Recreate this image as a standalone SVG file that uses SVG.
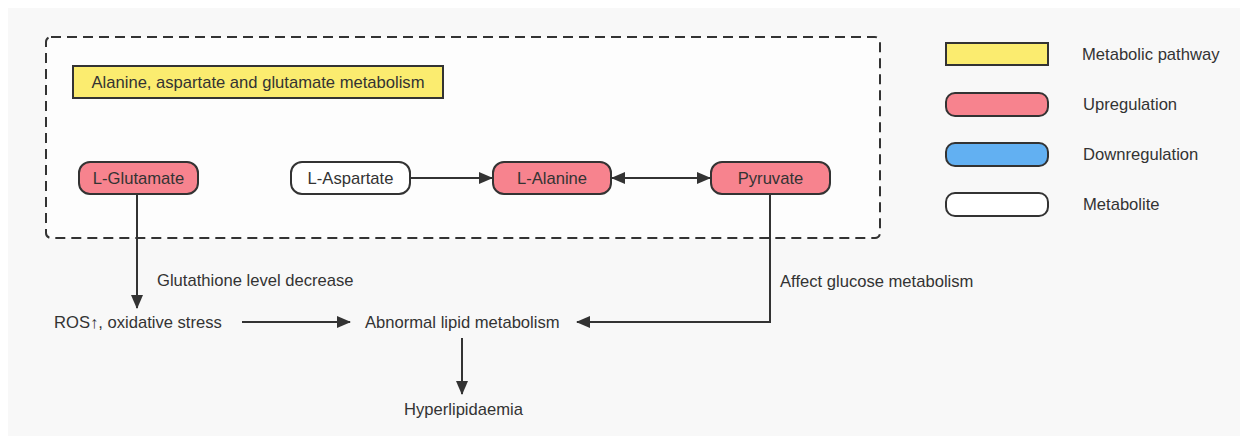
<svg xmlns="http://www.w3.org/2000/svg" width="1247" height="444" viewBox="0 0 1247 444">
<defs>
<marker id="ah" markerWidth="14" markerHeight="12" refX="13" refY="6" orient="auto-start-reverse" markerUnits="userSpaceOnUse"><path d="M0,0 L14,6 L0,12 Z" fill="#333"/></marker>
<style>
text{font-family:"Liberation Sans",Arial,sans-serif;font-size:16.6px;fill:#333}
.n{stroke:#333;stroke-width:2}
.up{fill:#f7838e}
.dn{fill:#62b0f2}
.mt{fill:#fff}
.pw{fill:#fbec6f}
.c{fill:none;stroke:#333;stroke-width:2}
.m{text-anchor:middle}
</style>
</defs>
<rect x="0" y="0" width="1247" height="444" fill="#fff"/>
<rect x="8" y="8" width="1232" height="428" fill="#f8f8f8"/>
<rect x="46" y="37" width="834" height="201" rx="5" fill="#fdfdfd" stroke="#333" stroke-width="2" stroke-dasharray="10,6"/>
<g id="pathway"><rect class="n pw" x="73" y="66" width="370" height="32"/><text class="m" x="258" y="88">Alanine, aspartate and glutamate metabolism</text></g>
<g id="glutamate"><rect class="n up" x="79" y="162" width="119" height="32" rx="11"/><text class="m" x="138.5" y="184">L-Glutamate</text></g>
<g id="aspartate"><rect class="n mt" x="291" y="162" width="119" height="32" rx="11"/><text class="m" x="350.5" y="184">L-Aspartate</text></g>
<g id="alanine"><rect class="n up" x="493" y="162" width="118" height="32" rx="11"/><text class="m" x="552" y="184">L-Alanine</text></g>
<g id="pyruvate"><rect class="n up" x="711" y="162" width="119" height="32" rx="11"/><text class="m" x="770.5" y="184">Pyruvate</text></g>
<g id="ros"><text x="54" y="328">ROS↑, oxidative stress</text></g>
<g id="lipid"><text x="365" y="328">Abnormal lipid metabolism</text></g>
<g id="hyper"><text x="404" y="415">Hyperlipidaemia</text></g>
<g id="connectors">
<line class="c" x1="410" y1="178" x2="492" y2="178" marker-end="url(#ah)"/>
<line class="c" x1="612" y1="178" x2="710" y2="178" marker-start="url(#ah)" marker-end="url(#ah)"/>
<line class="c" x1="137" y1="194" x2="137" y2="308" marker-end="url(#ah)"/>
<text x="157" y="286">Glutathione level decrease</text>
<line class="c" x1="242" y1="322" x2="350" y2="322" marker-end="url(#ah)"/>
<polyline class="c" points="770,194 770,322 577,322" marker-end="url(#ah)"/>
<text x="780" y="287">Affect glucose metabolism</text>
<line class="c" x1="462" y1="338" x2="462" y2="394" marker-end="url(#ah)"/>
</g>
<g id="legend">
<rect class="n pw" x="946" y="43" width="102" height="22"/><text x="1082" y="60">Metabolic pathway</text>
<rect class="n up" x="946" y="93" width="102" height="23" rx="9"/><text x="1083" y="110">Upregulation</text>
<rect class="n dn" x="946" y="143" width="102" height="23" rx="9"/><text x="1083" y="160">Downregulation</text>
<rect class="n mt" x="946" y="193" width="102" height="23" rx="9"/><text x="1083" y="210">Metabolite</text>
</g>
</svg>
